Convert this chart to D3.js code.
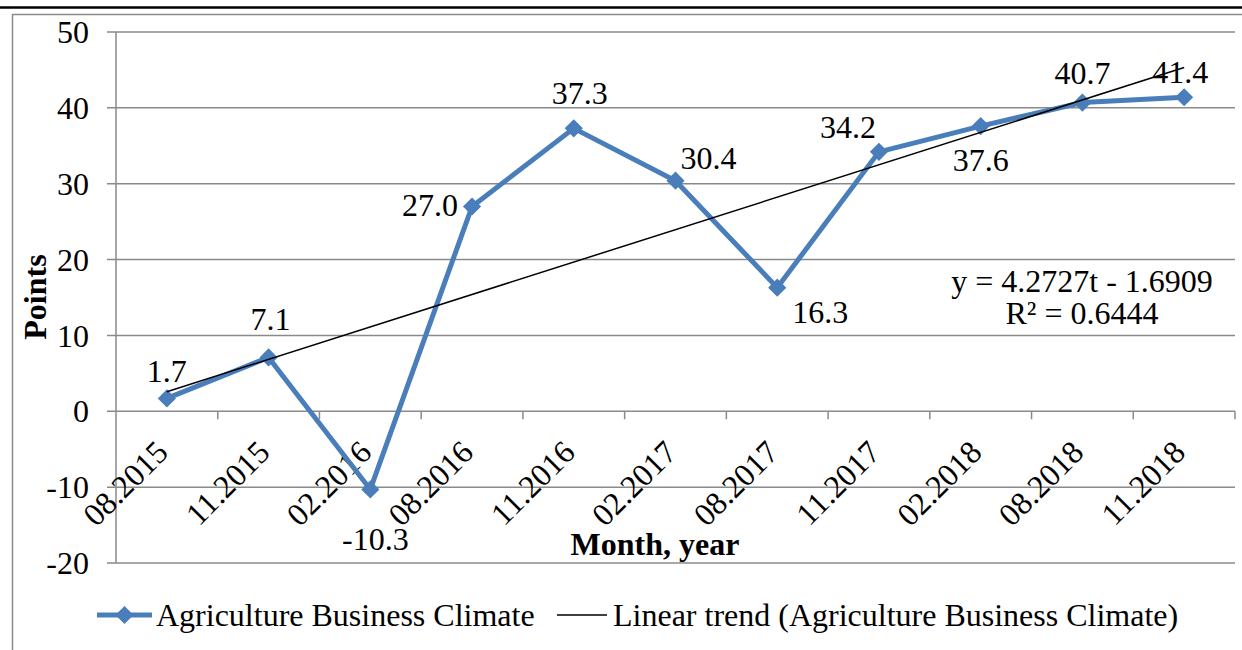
<!DOCTYPE html>
<html>
<head>
<meta charset="utf-8">
<script src="https://cdn.jsdelivr.net/npm/d3@7"></script>
<style>
  html, body { margin: 0; padding: 0; background: #fff; }
  svg { display: block; font-family: "Liberation Serif", "Times New Roman", serif; }
</style>
</head>
<body>
<svg id="chart" width="1242" height="650"></svg>
<script>
// ---- data ----
const categories = ["08.2015","11.2015","02.2016","08.2016","11.2016","02.2017","08.2017","11.2017","02.2018","08.2018","11.2018"];
const values = [1.7, 7.1, -10.3, 27.0, 37.3, 30.4, 16.3, 34.2, 37.6, 40.7, 41.4];
const yTicks = [-20, -10, 0, 10, 20, 30, 40, 50];
const seriesName = "Agriculture Business Climate";
const trendName = "Linear trend (Agriculture Business Climate)";
const xTitle = "Month, year";
const yTitle = "Points";

// label placement (layout only, offsets in px from the point)
const labelOffsets = [[0,-28],[2,-39],[5,49],[-42,-2],[6,-36],[33,-23],[43,24],[-31,-25],[0,34],[0,-30],[-4,-25]];

const svg = d3.select("#chart");
const blue = "#4a7ebb", grid = "#8a8a8a";
const fs = 32;

// frame
svg.append("line").attr("x1",0).attr("x2",1242).attr("y1",7.5).attr("y2",7.5)
  .attr("stroke","#000").attr("stroke-width",2.5);
svg.append("rect").attr("x",12.5).attr("y",14.5).attr("width",1300).attr("height",700)
  .attr("fill","none").attr("stroke",grid).attr("stroke-width",1.5);

const pLeft = 116, pRight = 1235, pTop = 32, pBottom = 563;
const y = d3.scaleLinear().domain([-20, 50]).range([pBottom, pTop]);
const xb = d3.scaleBand().domain(categories).range([pLeft, pRight]).padding(0);
const x = d3.scalePoint().domain(categories).range([pLeft, pRight]).padding(0.5);

// gridlines
svg.append("g").selectAll("line").data(yTicks).join("line")
  .attr("x1", pLeft - 9).attr("x2", pRight)
  .attr("y1", d => y(d)).attr("y2", d => y(d))
  .attr("stroke", grid).attr("stroke-width", 1.5);

// y axis line
svg.append("line").attr("x1", pLeft).attr("x2", pLeft).attr("y1", pTop).attr("y2", pBottom)
  .attr("stroke", grid).attr("stroke-width", 1.5);

// y tick labels
svg.append("g").selectAll("text").data(yTicks).join("text")
  .attr("x", pLeft - 27).attr("y", d => y(d))
  .attr("dy", "0.35em").attr("text-anchor", "end")
  .attr("font-size", fs).text(d => d);

// x tick marks at band boundaries
const y0 = y(0);
svg.append("g").selectAll("line").data(categories).join("line")
  .attr("x1", d => xb(d) + xb.bandwidth()).attr("x2", d => xb(d) + xb.bandwidth())
  .attr("y1", y0).attr("y2", y0 + 8)
  .attr("stroke", grid).attr("stroke-width", 1.5);

// x tick labels, rotated
svg.append("g").selectAll("text").data(categories).join("text")
  .attr("transform", d => `translate(${x(d) + 3},${y0 + 43}) rotate(-45)`)
  .attr("text-anchor", "end").attr("font-size", fs).text(d => d);

// trend line via least squares
const ts = values.map((v, i) => i + 1);
const n = values.length;
const mt = d3.mean(ts), mv = d3.mean(values);
const slope = d3.sum(ts.map((t, i) => (t - mt) * (values[i] - mv))) / d3.sum(ts.map(t => (t - mt) ** 2));
const intercept = mv - slope * mt;
const ssTot = d3.sum(values.map(v => (v - mv) ** 2));
const ssRes = d3.sum(values.map((v, i) => (v - (slope * ts[i] + intercept)) ** 2));
const r2 = 1 - ssRes / ssTot;

// series line
const line = d3.line().x((d, i) => x(categories[i])).y(d => y(d));
svg.append("path").datum(values).attr("d", line)
  .attr("fill", "none").attr("stroke", blue).attr("stroke-width", 5).attr("stroke-linejoin", "miter");

const diamond = d3.symbol().type(d3.symbolSquare).size(165);
svg.append("g").selectAll("path").data(values).join("path")
  .attr("d", diamond)
  .attr("transform", (d, i) => `translate(${x(categories[i])},${y(d)}) rotate(45)`)
  .attr("fill", blue);

// trend line on top
svg.append("line")
  .attr("x1", x(categories[0])).attr("y1", y(slope * 1 + intercept))
  .attr("x2", x(categories[n - 1])).attr("y2", y(slope * n + intercept))
  .attr("stroke", "#000").attr("stroke-width", 1.5);

// data labels
svg.append("g").selectAll("text").data(values).join("text")
  .attr("x", (d, i) => x(categories[i]) + labelOffsets[i][0])
  .attr("y", (d, i) => y(d) + labelOffsets[i][1])
  .attr("dy", "0.35em").attr("text-anchor", "middle")
  .attr("font-size", fs).text(d => d.toFixed(1));

// equation
svg.append("text").attr("x", 1082).attr("y", 281).attr("dy", "0.35em")
  .attr("text-anchor", "middle").attr("font-size", fs)
  .text(`y = ${slope.toFixed(4)}t - ${Math.abs(intercept).toFixed(4)}`);
svg.append("text").attr("x", 1082).attr("y", 313).attr("dy", "0.35em")
  .attr("text-anchor", "middle").attr("font-size", fs)
  .text(`R² = ${r2.toFixed(4)}`);

// axis titles
svg.append("text").attr("x", 655).attr("y", 544).attr("dy", "0.35em")
  .attr("text-anchor", "middle").attr("font-size", fs).attr("font-weight", "bold").text(xTitle);
svg.append("text").attr("transform", "translate(35,297) rotate(-90)").attr("dy", "0.35em")
  .attr("text-anchor", "middle").attr("font-size", fs).attr("font-weight", "bold").text(yTitle);

// legend
const ly = 615;
svg.append("line").attr("x1", 97).attr("x2", 152).attr("y1", ly).attr("y2", ly)
  .attr("stroke", blue).attr("stroke-width", 5);
svg.append("path").attr("d", diamond).attr("transform", `translate(124.5,${ly}) rotate(45)`).attr("fill", blue);
svg.append("text").attr("x", 156).attr("y", ly).attr("dy", "0.35em").attr("font-size", fs).text(seriesName);
svg.append("line").attr("x1", 557).attr("x2", 607).attr("y1", ly).attr("y2", ly)
  .attr("stroke", "#000").attr("stroke-width", 1.5);
svg.append("text").attr("x", 613).attr("y", ly).attr("dy", "0.35em").attr("font-size", fs).text(trendName);
</script>
</body>
</html>
